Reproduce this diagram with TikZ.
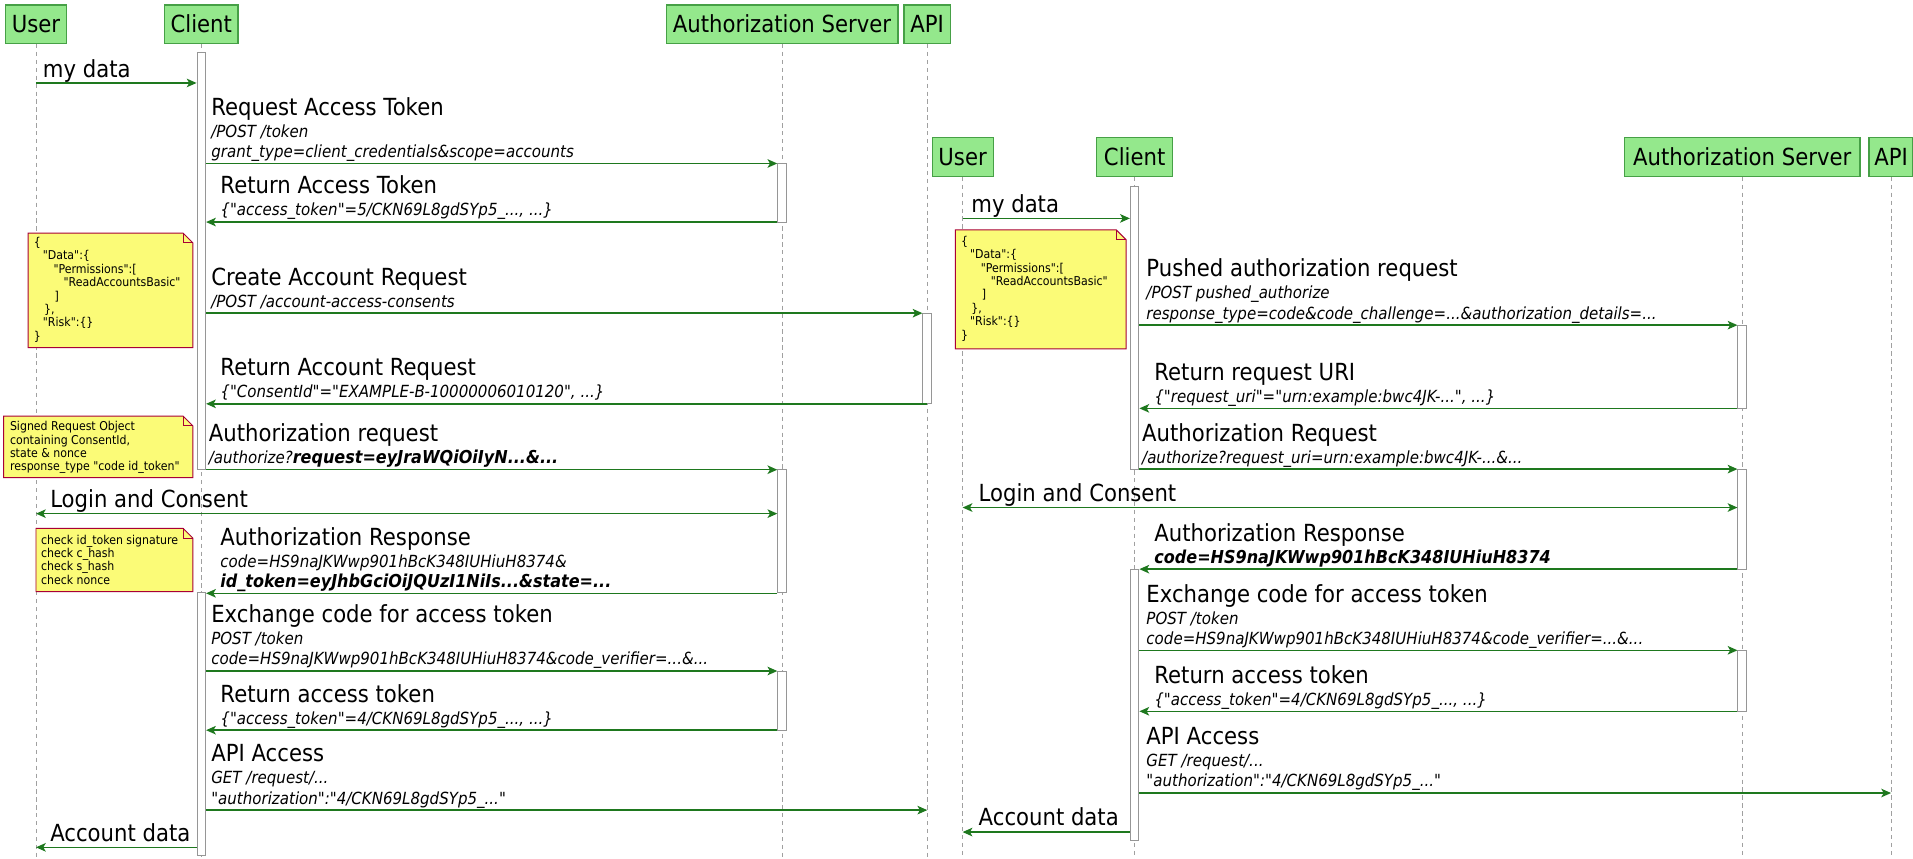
\documentclass[tikz,border=0pt]{standalone}
\usepackage{fontspec}
\setmainfont{DejaVu Sans}[FakeStretch=0.9,Ligatures=TeXOff]
\usetikzlibrary{arrows.meta}
\definecolor{partfill}{RGB}{148,232,140}
\definecolor{partdraw}{RGB}{70,160,70}
\definecolor{arrowc}{RGB}{30,120,30}
\definecolor{notefill}{RGB}{251,251,119}
\definecolor{notedraw}{RGB}{168,0,54}
\definecolor{lifec}{RGB}{160,160,160}
\definecolor{barc}{RGB}{150,150,150}
\begin{document}
\begin{tikzpicture}[x=1pt,y=-1pt,
  ptbox/.style={draw=partdraw,fill=partfill,line width=1pt,minimum height=31.5pt,inner sep=0pt,font=\fontsize{19.3}{19.3}\selectfont},
  lifeln/.style={draw=lifec,dash pattern=on 3.5pt off 3pt,line width=0.6pt},
  actbar/.style={draw=barc,fill=white,line width=0.8pt,minimum width=7pt,inner sep=0pt},
  msgarrow/.style={draw=arrowc,line width=1.2pt,-{Stealth[length=8pt,width=7pt,inset=2pt]}},
  dmsgarrow/.style={draw=arrowc,line width=1.2pt,{Stealth[length=8pt,width=7pt,inset=2pt]}-{Stealth[length=8pt,width=7pt,inset=2pt]}},
  mlbl/.style={anchor=base west,inner sep=0pt,font=\fontsize{19.3}{19.3}\selectfont},
  ilbl/.style={anchor=base west,inner sep=0pt,font=\fontsize{13.7}{13.7}\selectfont\itshape},
  bilbl/.style={anchor=base west,inner sep=0pt,font=\fontsize{14.6}{14.6}\selectfont\itshape\bfseries},
  ntxt/.style={anchor=base west,inner sep=0pt,font=\fontsize{10}{10}\selectfont},
  notebox/.style={draw=notedraw,fill=notefill,line width=0.8pt,line join=miter},
  notefold/.style={draw=notedraw,line width=0.8pt}
]
\useasboundingbox[fill=white] (0,0) rectangle (1568,704);
\coordinate (bot) at (0,704);

% ---------------- left diagram: participants ----------------
\node[ptbox,minimum width=50pt] (uL) at (29.5,19.8) {User};
\node[ptbox,minimum width=60pt] (cL) at (165,19.8) {Client};
\node[ptbox,minimum width=190pt] (aL) at (641,19.8) {Authorization Server};
\node[ptbox,minimum width=38pt] (pL) at (760,19.8) {API};
\foreach \p in {uL,cL,aL,pL} \draw[lifeln] (\p.south) -- (\p.south |- bot);

% ---------------- right diagram: participants ----------------
\node[ptbox,minimum width=50pt] (uR) at (789,128.7) {User};
\node[ptbox,minimum width=62pt] (cR) at (930,128.7) {Client};
\node[ptbox,minimum width=193pt] (aR) at (1428,128.7) {Authorization Server};
\node[ptbox,minimum width=36pt] (pR) at (1550,128.7) {API};
\foreach \p in {uR,cR,aR,pR} \draw[lifeln] (\p.south) -- (\p.south |- bot);

% ---------------- activation bars ----------------
\node[actbar,minimum height=342pt] (cb1) at (165,214) {};
\node[actbar,minimum height=215pt] (cb2) at (165,593.5) {};
\node[actbar,minimum height=48pt] (ab1) at (641,158) {};
\node[actbar,minimum height=101pt] (ab2) at (641,435.5) {};
\node[actbar,minimum height=48.5pt] (ab3) at (641,574.25) {};
\node[actbar,minimum height=74.3pt] (pb1) at (760,293.85) {};

\node[actbar,minimum height=231.5pt] (cb3) at (930,268.75) {};
\node[actbar,minimum height=222pt] (cb4) at (930,577.5) {};
\node[actbar,minimum height=68.2pt] (ab4) at (1428,300.6) {};
\node[actbar,minimum height=82pt] (ab5) at (1428,425.5) {};
\node[actbar,minimum height=50pt] (ab6) at (1428,558) {};

% ---------------- notes ----------------
\draw[notebox] (23,191) -- (150,191) -- (158,199) -- (158,285) -- (23,285) -- cycle;
\draw[notefold] (150,191) -- (150,199) -- (158,199);
\draw[notebox] (3,341) -- (150,341) -- (158,349) -- (158,391.5) -- (3,391.5) -- cycle;
\draw[notefold] (150,341) -- (150,349) -- (158,349);
\draw[notebox] (29.5,433) -- (150,433) -- (158,441) -- (158,485) -- (29.5,485) -- cycle;
\draw[notefold] (150,433) -- (150,441) -- (158,441);
\draw[notebox] (783,188.5) -- (915,188.5) -- (923,196.5) -- (923,286) -- (783,286) -- cycle;
\draw[notefold] (915,188.5) -- (915,196.5) -- (923,196.5);

\node[ntxt] (n1a) at (27.5,202) {\{};
\node[ntxt] (n1b) at (35,213) {"Data":\{};
\node[ntxt] (n1c) at (43.7,224) {"Permissions":[};
\node[ntxt] (n1d) at (52,235) {"ReadAccountsBasic"};
\node[ntxt] (n1e) at (44.5,246) {]};
\node[ntxt] (n1f) at (36,257) {\},};
\node[ntxt] (n1g) at (35,268) {"Risk":\{\}};
\node[ntxt] (n1h) at (27.5,279) {\}};

\node[ntxt] (n2a) at (8,353) {Signed Request Object};
\node[ntxt] (n2b) at (8,364) {containing ConsentId,};
\node[ntxt] (n2c) at (8,375) {state \& nonce};
\node[ntxt] (n2d) at (8,386) {response\_type "code id\_token"};

\node[ntxt] (n3a) at (33.5,446) {check id\_token signature};
\node[ntxt] (n3b) at (33.5,457) {check c\_hash};
\node[ntxt] (n3c) at (33.5,468) {check s\_hash};
\node[ntxt] (n3d) at (33.5,479) {check nonce};

\node[ntxt] (n4a) at (787.5,201) {\{};
\node[ntxt] (n4b) at (795,212) {"Data":\{};
\node[ntxt] (n4c) at (803.7,223) {"Permissions":[};
\node[ntxt] (n4d) at (812,234) {"ReadAccountsBasic"};
\node[ntxt] (n4e) at (804.5,245) {]};
\node[ntxt] (n4f) at (796,256) {\},};
\node[ntxt] (n4g) at (795,267) {"Risk":\{\}};
\node[ntxt] (n4h) at (787.5,278) {\}};

% ---------------- left messages ----------------
\coordinate (r1) at (0,68);
\coordinate (r2) at (0,134);
\coordinate (r3) at (0,182);
\coordinate (r4) at (0,256.7);
\coordinate (r5) at (0,331);
\coordinate (r6) at (0,385);
\coordinate (r7) at (0,421);
\coordinate (r8) at (0,486.3);
\coordinate (r9) at (0,550);
\coordinate (r10) at (0,598.5);
\coordinate (r11) at (0,664);
\coordinate (r12) at (0,694.5);

\draw[msgarrow] (uL |- r1) -- (cb1.west |- r1);
\draw[msgarrow] (cb1.east |- r2) -- (ab1.west |- r2);
\draw[msgarrow] (ab1.west |- r3) -- (cb1.east |- r3);
\draw[msgarrow] (cb1.east |- r4) -- (pb1.west |- r4);
\draw[msgarrow] (pb1 |- r5) -- (cb1.east |- r5);
\draw[msgarrow] (cb1.east |- r6) -- (ab2.west |- r6);
\draw[dmsgarrow] (uL |- r7) -- (ab2.west |- r7);
\draw[msgarrow] (ab2.west |- r8) -- (cb2.east |- r8);
\draw[msgarrow] (cb2.east |- r9) -- (ab3.west |- r9);
\draw[msgarrow] (ab3.west |- r10) -- (cb2.east |- r10);
\draw[msgarrow] (cb2.east |- r11) -- (pL |- r11);
\draw[msgarrow] (cb2.west |- r12) -- (uL |- r12);

\node[mlbl] (t1) at (35,63.3) {my data};
\node[mlbl] (t2a) at (173,94.5) {Request Access Token};
\node[ilbl] (t2b) at (173,112.5) {/POST /token};
\node[ilbl] (t2c) at (173,129) {grant\_type=client\_credentials\&scope=accounts};
\node[mlbl] (t3a) at (180.5,159) {Return Access Token};
\node[ilbl] (t3b) at (180.5,177) {\{"access\_token"=5/CKN69L8gdSYp5\_..., ...\}};
\node[mlbl] (t4a) at (173,233.7) {Create Account Request};
\node[ilbl] (t4b) at (173,251.7) {/POST /account-access-consents};
\node[mlbl] (t5a) at (180.5,308) {Return Account Request};
\node[ilbl] (t5b) at (180.5,326) {\{"ConsentId"="EXAMPLE-B-10000006010120", ...\}};
\node[mlbl] (t6a) at (171,362) {Authorization request};
\node[ilbl] (t6b) at (171,380) {/authorize?{\fontsize{14.6}{14.6}\selectfont\bfseries request=eyJraWQiOiIyN...\&...}};
\node[mlbl] (t7) at (41,416) {Login and Consent};
\node[mlbl] (t8a) at (180.5,446.8) {Authorization Response};
\node[ilbl] (t8b) at (180.5,464.8) {code=HS9naJKWwp901hBcK348IUHiuH8374\&};
\node[bilbl] (t8c) at (180.5,481.3) {id\_token=eyJhbGciOiJQUzI1NiIs...\&state=...};
\node[mlbl] (t9a) at (173,510.5) {Exchange code for access token};
\node[ilbl] (t9b) at (173,528.5) {POST /token};
\node[ilbl] (t9c) at (173,545) {code=HS9naJKWwp901hBcK348IUHiuH8374\&code\_verifier=...\&...};
\node[mlbl] (t10a) at (180.5,575.5) {Return access token};
\node[ilbl] (t10b) at (180.5,593.5) {\{"access\_token"=4/CKN69L8gdSYp5\_..., ...\}};
\node[mlbl] (t11a) at (173,624.5) {API Access};
\node[ilbl] (t11b) at (173,642.5) {GET /request/...};
\node[ilbl] (t11c) at (173,659) {"authorization":"4/CKN69L8gdSYp5\_..."};
\node[mlbl] (t12) at (41,689.5) {Account data};

% ---------------- right messages ----------------
\coordinate (s1) at (0,179);
\coordinate (s2) at (0,266.5);
\coordinate (s3) at (0,334.7);
\coordinate (s4) at (0,384.5);
\coordinate (s5) at (0,416);
\coordinate (s6) at (0,466.5);
\coordinate (s7) at (0,533);
\coordinate (s8) at (0,583);
\coordinate (s9) at (0,650);
\coordinate (s10) at (0,682);

\draw[msgarrow] (uR |- s1) -- (cb3.west |- s1);
\draw[msgarrow] (cb3.east |- s2) -- (ab4.west |- s2);
\draw[msgarrow] (ab4.west |- s3) -- (cb3.east |- s3);
\draw[msgarrow] (cb3.east |- s4) -- (ab5.west |- s4);
\draw[dmsgarrow] (uR |- s5) -- (ab5.west |- s5);
\draw[msgarrow] (ab5.west |- s6) -- (cb4.east |- s6);
\draw[msgarrow] (cb4.east |- s7) -- (ab6.west |- s7);
\draw[msgarrow] (ab6.west |- s8) -- (cb4.east |- s8);
\draw[msgarrow] (cb4.east |- s9) -- (pR |- s9);
\draw[msgarrow] (cb4.west |- s10) -- (uR |- s10);

\node[mlbl] (u1) at (796,174) {my data};
\node[mlbl] (u2a) at (939.5,227) {Pushed authorization request};
\node[ilbl] (u2b) at (939.5,245) {/POST pushed\_authorize};
\node[ilbl] (u2c) at (939.5,261.5) {response\_type=code\&code\_challenge=...\&authorization\_details=...};
\node[mlbl] (u3a) at (946,311.7) {Return request URI};
\node[ilbl] (u3b) at (946,329.7) {\{"request\_uri"="urn:example:bwc4JK-...", ...\}};
\node[mlbl] (u4a) at (936,361.5) {Authorization Request};
\node[ilbl] (u4b) at (936,379.5) {/authorize?request\_uri=urn:example:bwc4JK-...\&...};
\node[mlbl] (u5) at (802,411) {Login and Consent};
\node[mlbl] (u6a) at (946,443.5) {Authorization Response};
\node[bilbl] (u6b) at (946,461.5) {code=HS9naJKWwp901hBcK348IUHiuH8374};
\node[mlbl] (u7a) at (939.5,493.5) {Exchange code for access token};
\node[ilbl] (u7b) at (939.5,511.5) {POST /token};
\node[ilbl] (u7c) at (939.5,528) {code=HS9naJKWwp901hBcK348IUHiuH8374\&code\_verifier=...\&...};
\node[mlbl] (u8a) at (946,560) {Return access token};
\node[ilbl] (u8b) at (946,578) {\{"access\_token"=4/CKN69L8gdSYp5\_..., ...\}};
\node[mlbl] (u9a) at (939.5,610.5) {API Access};
\node[ilbl] (u9b) at (939.5,628.5) {GET /request/...};
\node[ilbl] (u9c) at (939.5,645) {"authorization":"4/CKN69L8gdSYp5\_..."};
\node[mlbl] (u10) at (802,677) {Account data};
\end{tikzpicture}
\end{document}
